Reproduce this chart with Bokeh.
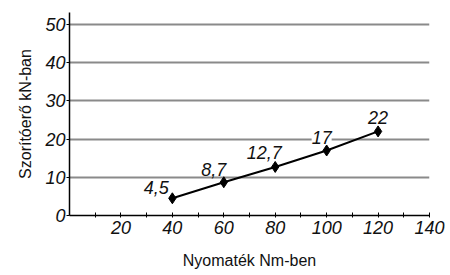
from bokeh.plotting import figure
from bokeh.models import ColumnDataSource, LabelSet, Range1d, FixedTicker
from bokeh.core.properties import value
from bokeh.embed import file_html
from bokeh.resources import INLINE

# Data
torque = [40, 60, 80, 100, 120]
force = [4.5, 8.7, 12.7, 17, 22]
labels = [f"{v:g}".replace(".", ",") for v in force]
x_ticks = [20, 40, 60, 80, 100, 120, 140]
x_minor = [10, 30, 50, 70, 90, 110, 130]
y_ticks = [0, 10, 20, 30, 40, 50]
x_title = "Nyomaték Nm-ben"
y_title = "Szorítóerő kN-ban"

FONT = "Liberation Sans"

p = figure(width=448, height=275, output_backend="svg", toolbar_location=None,
           x_range=Range1d(0, 140), y_range=Range1d(0, 53.1),
           min_border_left=69, min_border_right=19, min_border_top=12, min_border_bottom=60)
p.outline_line_color = None
p.background_fill_color = "white"

# grid
p.xgrid.visible = False
p.ygrid.ticker = FixedTicker(ticks=[10, 20, 30, 40, 50])
p.ygrid.grid_line_color = "#8a8a8a"
p.ygrid.grid_line_width = 2

# x axis
xa = p.xaxis[0]
xa.ticker = FixedTicker(ticks=x_ticks, minor_ticks=x_minor)
xa.axis_line_color = "black"
xa.axis_line_width = 1.5
xa.major_tick_in = 3
xa.major_tick_out = 2
xa.minor_tick_in = 3
xa.minor_tick_out = 2
xa.major_tick_line_color = "black"
xa.minor_tick_line_color = "black"
xa.major_label_text_font = FONT
xa.major_label_text_font_style = "italic"
xa.major_label_text_font_size = "18px"
xa.major_label_text_color = "#111111"
xa.major_label_standoff = 3
xa.axis_label = x_title
xa.axis_label_text_font = FONT
xa.axis_label_text_font_style = "normal"
xa.axis_label_text_font_size = "16px"
xa.axis_label_text_color = "#111111"
xa.axis_label_standoff = 15

# y axis
ya = p.yaxis[0]
ya.ticker = FixedTicker(ticks=y_ticks)
ya.axis_line_color = "black"
ya.axis_line_width = 1.5
ya.major_tick_in = 0
ya.major_tick_out = 3
ya.minor_tick_line_color = None
ya.major_tick_line_color = "black"
ya.major_label_text_font = FONT
ya.major_label_text_font_style = "italic"
ya.major_label_text_font_size = "18px"
ya.major_label_text_color = "#111111"
ya.major_label_standoff = 1
ya.axis_label = y_title
ya.axis_label_text_font = FONT
ya.axis_label_text_font_style = "normal"
ya.axis_label_text_font_size = "16px"
ya.axis_label_text_color = "#111111"
ya.axis_label_standoff = 8

src = ColumnDataSource(dict(x=torque, y=force, label=labels,
                            dx=[-16, -10, -11, -5, 0], dy=[11, 13, 14, 13, 14]))
p.line("x", "y", source=src, line_color="black", line_width=2)
p.scatter("x", "y", source=src, marker="diamond", size=11, color="black")

ls = LabelSet(x="x", y="y", text="label", source=src, x_offset="dx", y_offset="dy",
              text_align="center", text_baseline="middle",
              text_font=value(FONT), text_font_style="italic", text_font_size="18px",
              text_color="#111111", background_fill_color="white")
p.add_layout(ls)

open("out.html", "w").write(file_html(p, INLINE))
